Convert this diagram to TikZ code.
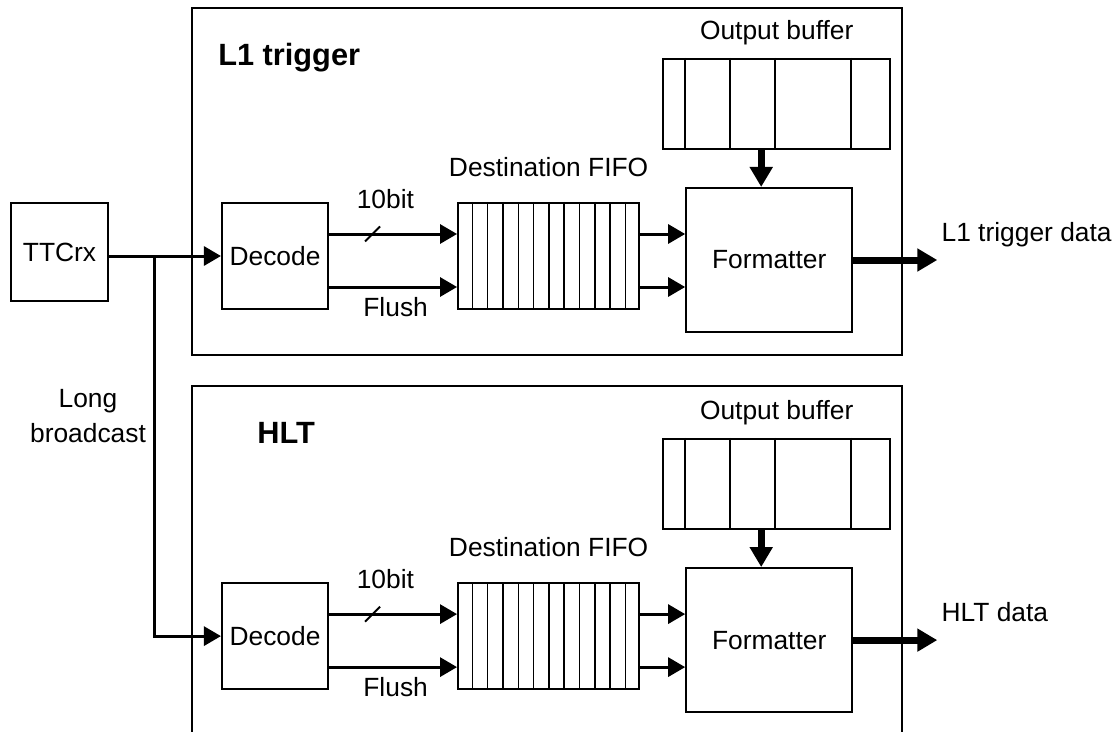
\documentclass[tikz,border=0pt]{standalone}
\usepackage{fontspec}
\setmainfont{Liberation Sans}
\usetikzlibrary{arrows.meta, positioning}

\begin{document}
\begin{tikzpicture}[
  x=0.2mm, y=-0.2mm,
  blk/.style    = {draw, line width=0.42mm, inner sep=0pt,
                   font=\fontsize{15}{19.9}\selectfont},
  panel/.style  = {draw, line width=0.42mm, inner sep=0pt,
                   minimum width=142mm, minimum height=69.4mm},
  lbl/.style    = {inner sep=0pt, font=\fontsize{15}{19.9}\selectfont},
  ttl/.style    = {inner sep=0pt, font=\fontsize{17.5}{21}\selectfont\bfseries},
  cell/.style   = {line width=0.3mm},
  arr/.style    = {-{Triangle[length=3.4mm, width=3.8mm]}, line width=0.6mm},
  bigarr/.style = {-{Triangle[length=4mm, width=4.4mm]}, line width=1.4mm},
]
  \path[use as bounding box, clip] (0,0) rectangle (1114,731);

  % the two readout stages
  \node[panel] (l1box)  at (547,181.5) {};
  \node[panel] (hltbox) at (547,559.5) {};
  \node[ttl, anchor=base west] (l1ttl)  at ([xshift=5.4mm, yshift=-11.8mm]l1box.north west)  {L1 trigger};
  \node[ttl, anchor=base west] (hltttl) at ([xshift=13.2mm, yshift=-11.8mm]hltbox.north west) {HLT};

  \node[blk, minimum width=19.4mm, minimum height=19.6mm] (ttc) at (59.5,252) {TTCrx};

  % L1 trigger stage
  \node[blk, minimum size=21.2mm] (dec1) at (275,256) {Decode};
  \node[blk, minimum width=36.2mm, minimum height=21.2mm, right=25.6mm of dec1] (fifo1) {};
  \node[blk, minimum width=33.2mm, minimum height=28.8mm, right=9mm of fifo1, yshift=-0.8mm] (fmt1) {Formatter};
  \node[blk, minimum width=45.4mm, minimum height=18mm, above=7.4mm of fmt1, xshift=1.5mm] (obuf1) {};
  \node[lbl, above=5mm of fifo1]   (fifolbl1) {Destination FIFO};
  \node[lbl, above=2.5mm of obuf1] (obuflbl1) {Output buffer};

  % HLT stage
  \node[blk, minimum size=21.2mm, below=54.4mm of dec1] (dec2) {Decode};
  \node[blk, minimum width=36.2mm, minimum height=21.2mm, right=25.6mm of dec2] (fifo2) {};
  \node[blk, minimum width=33.2mm, minimum height=28.8mm, right=9mm of fifo2, yshift=-0.8mm] (fmt2) {Formatter};
  \node[blk, minimum width=45.4mm, minimum height=18mm, above=7.4mm of fmt2, xshift=1.5mm] (obuf2) {};
  \node[lbl, above=5mm of fifo2]   (fifolbl2) {Destination FIFO};
  \node[lbl, above=2.5mm of obuf2] (obuflbl2) {Output buffer};

  \foreach \i in {1,...,11} {
    \draw[cell] ([xshift=\i*3.06mm]fifo1.north west) -- ([xshift=\i*3.06mm]fifo1.south west);
    \draw[cell] ([xshift=\i*3.06mm]fifo2.north west) -- ([xshift=\i*3.06mm]fifo2.south west);
  }
  \foreach \d in {4.6mm,13.6mm,22.6mm,37.8mm} {
    \draw[cell] ([xshift=\d]obuf1.north west) -- ([xshift=\d]obuf1.south west);
    \draw[cell] ([xshift=\d]obuf2.north west) -- ([xshift=\d]obuf2.south west);
  }

  % broadcast from the TTCrx
  \draw[arr] (ttc.east |- dec1.west) -- coordinate[pos=.41] (split) (dec1.west);
  \draw[arr] (split) |- (dec2.west);
  \node[lbl, align=center] (lbcast) at (88,416) {Long\\broadcast};

  % signals, stage 1
  \coordinate (bus1)   at ([yshift=4.4mm]dec1.east);
  \coordinate (flush1) at ([yshift=-6.2mm]dec1.east);
  \draw[arr] (bus1) -- node[lbl, above=4.8mm, pos=.44]{10bit} coordinate[pos=.34] (slash1) (bus1 -| fifo1.west);
  \draw[line width=0.4mm] ([shift={(-7.5,7.5)}]slash1) -- ([shift={(7.5,-7.5)}]slash1);
  \draw[arr] (flush1) -- node[lbl, below=1.8mm, pos=.52]{Flush} (flush1 -| fifo1.west);
  \draw[arr] (bus1 -| fifo1.east)   -- (bus1 -| fmt1.west);
  \draw[arr] (flush1 -| fifo1.east) -- (flush1 -| fmt1.west);
  \coordinate (feed1) at ([xshift=-1.6mm]fmt1.north);
  \draw[bigarr] (feed1 |- obuf1.south) -- (feed1);
  \draw[bigarr] (fmt1.east) -- ++(16.8mm,0) coordinate (out1);
  \node[lbl, anchor=base west] (l1data) at ([xshift=0.8mm, yshift=3.7mm]out1) {L1 trigger data};

  % signals, stage 2
  \coordinate (bus2)   at ([yshift=4.4mm]dec2.east);
  \coordinate (flush2) at ([yshift=-6.2mm]dec2.east);
  \draw[arr] (bus2) -- node[lbl, above=4.8mm, pos=.44]{10bit} coordinate[pos=.34] (slash2) (bus2 -| fifo2.west);
  \draw[line width=0.4mm] ([shift={(-7.5,7.5)}]slash2) -- ([shift={(7.5,-7.5)}]slash2);
  \draw[arr] (flush2) -- node[lbl, below=1.8mm, pos=.52]{Flush} (flush2 -| fifo2.west);
  \draw[arr] (bus2 -| fifo2.east)   -- (bus2 -| fmt2.west);
  \draw[arr] (flush2 -| fifo2.east) -- (flush2 -| fmt2.west);
  \coordinate (feed2) at ([xshift=-1.6mm]fmt2.north);
  \draw[bigarr] (feed2 |- obuf2.south) -- (feed2);
  \draw[bigarr] (fmt2.east) -- ++(16.8mm,0) coordinate (out2);
  \node[lbl, anchor=base west] (hltdata) at ([xshift=0.8mm, yshift=3.7mm]out2) {HLT data};
\end{tikzpicture}
\end{document}
